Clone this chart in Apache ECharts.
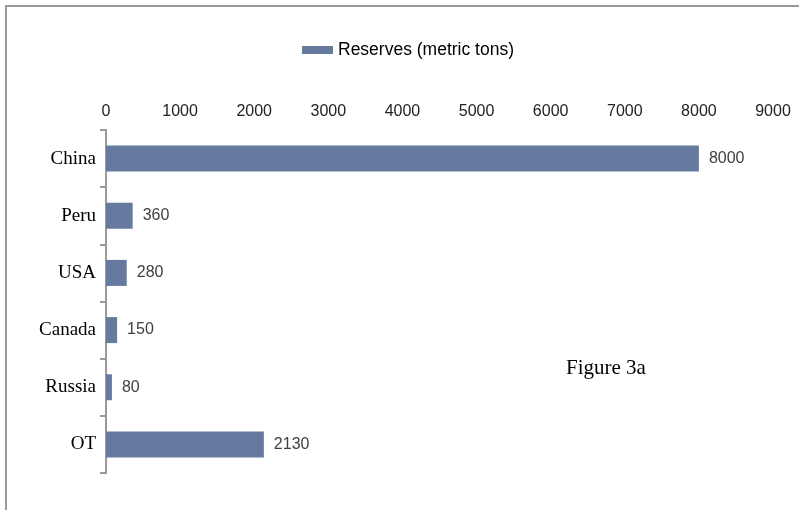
<!DOCTYPE html>
<html>
<head>
<meta charset="utf-8">
<script src="https://cdn.jsdelivr.net/npm/echarts@6/dist/echarts.min.js"></script>
<style>
html,body{margin:0;padding:0;background:#fff;}
#main{width:799px;height:510px;}
</style>
</head>
<body>
<div id="main"></div>
<script>
const categories = ['China', 'Peru', 'USA', 'Canada', 'Russia', 'OT'];
const reserves = [8000, 360, 280, 150, 80, 2130];
const seriesName = 'Reserves (metric tons)';
const annotation = 'Figure 3a';

const chart = echarts.init(document.getElementById('main'), null, {renderer: 'canvas'});
chart.setOption({
  animation: false,
  backgroundColor: '#ffffff',
  legend: {
    data: [seriesName],
    left: 297,
    top: 36,
    itemWidth: 31,
    itemHeight: 8,
    itemGap: 11,
    textStyle: {fontFamily: 'Liberation Sans, Arial, sans-serif', fontSize: 17.5, color: '#000'},
    icon: 'rect'
  },
  grid: {left: 106, right: 26, top: 130, bottom: 37, containLabel: false},
  xAxis: {
    type: 'value',
    position: 'top',
    min: 0,
    max: 9000,
    interval: 1000,
    axisLine: {show: false},
    axisTick: {show: false},
    splitLine: {show: false},
    axisLabel: {
      margin: 10,
      fontFamily: 'Liberation Sans, Arial, sans-serif',
      fontSize: 16,
      color: '#222',
      formatter: function (v) { return String(v); }
    }
  },
  yAxis: {
    type: 'category',
    inverse: true,
    data: categories,
    axisLine: {show: true, lineStyle: {color: '#999', width: 2}},
    axisTick: {show: true, length: 6, lineStyle: {color: '#999', width: 2}},
    axisLabel: {margin: 10, fontFamily: 'Liberation Serif, Times New Roman, serif', fontSize: 19, color: '#000'}
  },
  series: [{
    name: seriesName,
    type: 'bar',
    data: reserves,
    barWidth: 26,
    itemStyle: {color: '#667a9f'},
    label: {
      show: true,
      position: 'right',
      distance: 10,
      fontFamily: 'Liberation Sans, Arial, sans-serif',
      fontSize: 16,
      color: '#404040'
    }
  }],
  graphic: [
    {
      type: 'polyline',
      shape: {points: [[6, 510], [6, 6], [799, 6]]},
      style: {stroke: '#999', lineWidth: 2, fill: null},
      silent: true
    },
    {
      type: 'text',
      left: 566,
      top: 358,
      style: {text: annotation, font: '21px "Liberation Serif", "Times New Roman", serif', fill: '#000'}
    }
  ]
});
</script>
</body>
</html>
